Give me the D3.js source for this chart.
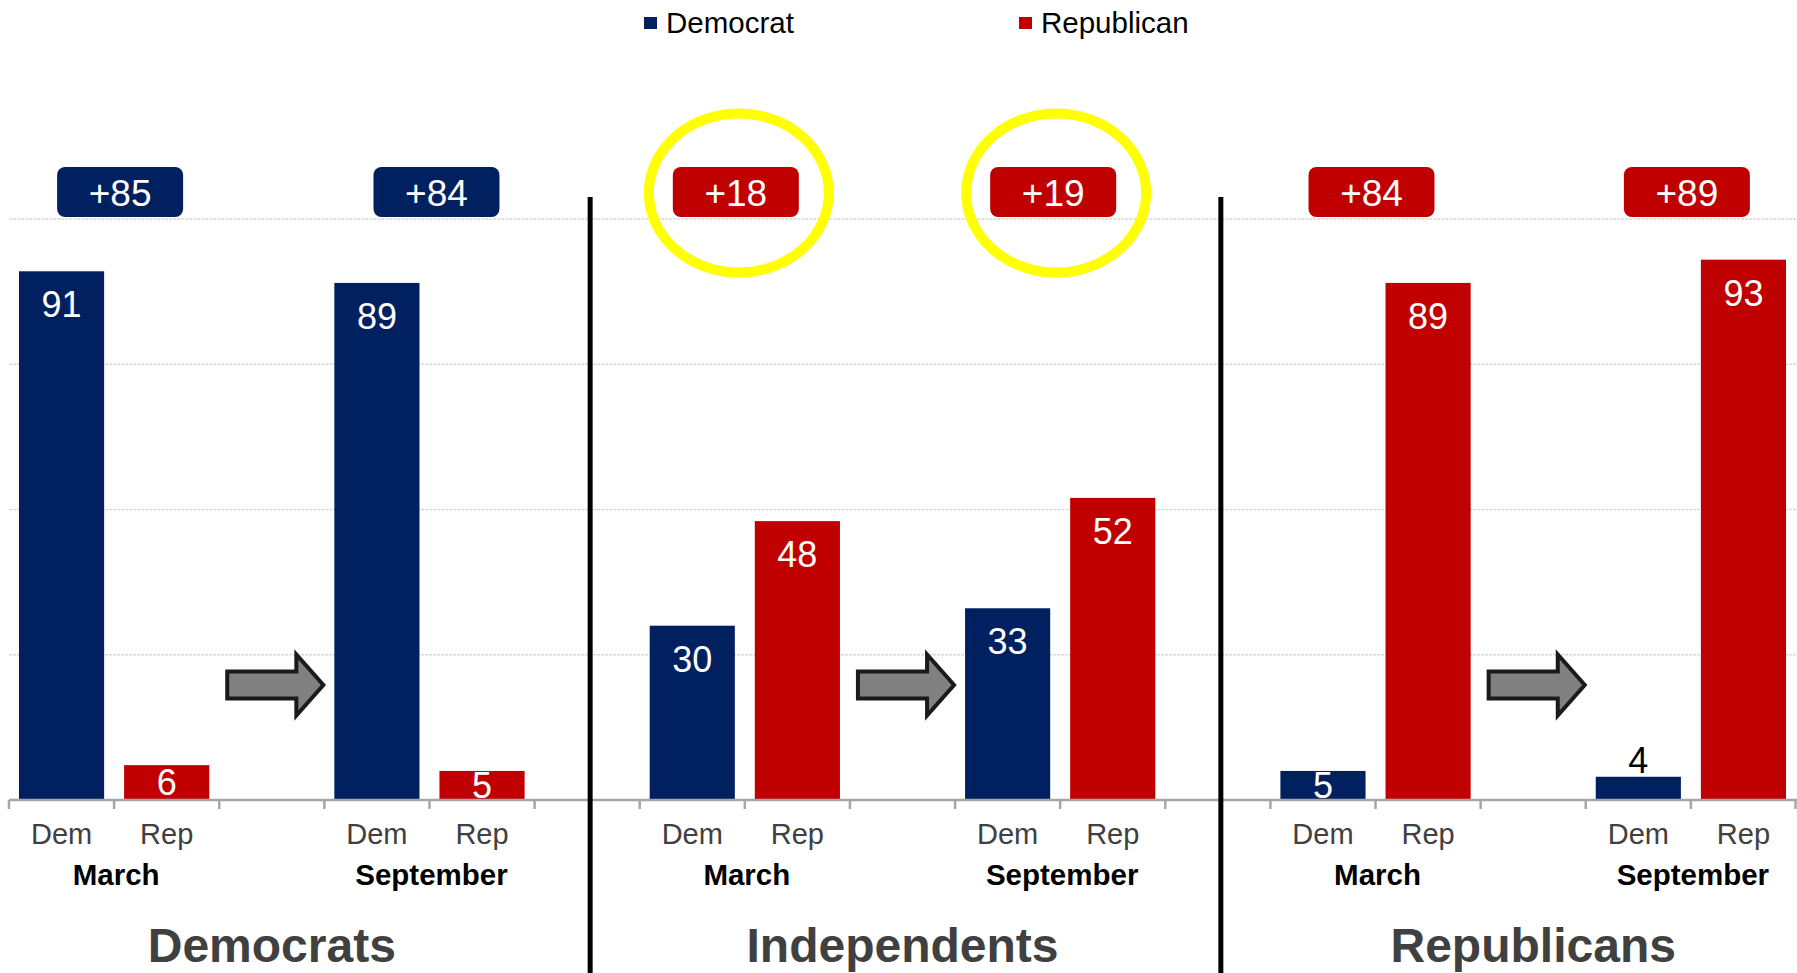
<!DOCTYPE html>
<html>
<head>
<meta charset="utf-8">
<script src="https://cdn.jsdelivr.net/npm/d3@7/dist/d3.min.js"></script>
<style>
  html, body { margin: 0; padding: 0; background: #ffffff; }
  svg { display: block; }
  text { font-family: "Liberation Sans", Arial, Helvetica, sans-serif; }
</style>
</head>
<body>
<svg id="chart" width="1797" height="973"></svg>
<script>
// ---- data ----
const groups = ["Democrats", "Independents", "Republicans"];
const waves = ["March", "September"];
const parties = ["Dem", "Rep"];
const legendLabels = ["Democrat", "Republican"];
// per group, per wave (March, September)
const demShare = [91, 89, 30, 33, 5, 4];
const repShare = [6, 5, 48, 52, 89, 93];
const leadLabels = ["+85", "+84", "+18", "+19", "+84", "+89"];
const leadParty = ["Dem", "Dem", "Rep", "Rep", "Rep", "Rep"];
const highlighted = [false, false, true, true, false, false];
const gridValues = [25, 50, 75, 100];

// ---- layout / styling ----
const W = 1797, H = 973;
const colors = { Dem: "#002060", Rep: "#C00000" };
const boxNudge = [6, 7, -9, -7, -4, -4]; // hand placement of the lead boxes
const svg = d3.select("#chart");

// slot keys: per group -> M-Dem, M-Rep, gap(arrow), S-Dem, S-Rep ; separator slot between groups
const slots = [];
groups.forEach((g, gi) => {
  waves.forEach((w, wi) => {
    parties.forEach(p => slots.push(`${g}|${w}|${p}`));
    if (wi === 0) slots.push(`${g}|arrow`);
  });
  if (gi < groups.length - 1) slots.push(`sep${gi}`);
});

const x = d3.scaleBand().domain(slots).range([9, 1796]).paddingInner(0.19).paddingOuter(0.095);
const step = x.step();
const slotStart = k => x(k) - step * 0.095;
const slotEnd = k => slotStart(k) + step;
const slotMid = k => x(k) + x.bandwidth() / 2;

const y = d3.scaleLinear().domain([0, 100]).range([800, 219]);

// gridlines
svg.append("g").selectAll("line").data(gridValues).join("line")
  .attr("x1", 9).attr("x2", W)
  .attr("y1", d => y(d)).attr("y2", d => y(d))
  .attr("stroke", "#d9d9d9").attr("stroke-width", 1.5)
  .attr("stroke-dasharray", "3,1");

// bar records
const bars = [];
groups.forEach((g, gi) => waves.forEach((w, wi) => {
  const i = gi * 2 + wi;
  bars.push({ key: `${g}|${w}|Dem`, party: "Dem", v: demShare[i] });
  bars.push({ key: `${g}|${w}|Rep`, party: "Rep", v: repShare[i] });
}));

svg.append("g").selectAll("rect").data(bars).join("rect")
  .attr("x", d => x(d.key)).attr("width", x.bandwidth())
  .attr("y", d => y(d.v)).attr("height", d => y(0) - y(d.v))
  .attr("fill", d => colors[d.party]);

// axis
const axisG = svg.append("g");
axisG.append("line").attr("x1", 9).attr("x2", W).attr("y1", y(0)).attr("y2", y(0))
  .attr("stroke", "#a6a6a6").attr("stroke-width", 2.5);
const tickXs = slots.map(slotStart).concat([slotEnd(slots[slots.length - 1])]);
axisG.selectAll("line.tick").data(tickXs).join("line").attr("class", "tick")
  .attr("x1", d => Math.min(d, W - 1.5)).attr("x2", d => Math.min(d, W - 1.5))
  .attr("y1", y(0)).attr("y2", y(0) + 9)
  .attr("stroke", "#a6a6a6").attr("stroke-width", 2.5);

// value labels
svg.append("g").selectAll("text").data(bars).join("text")
  .attr("x", d => slotMid(d.key))
  .attr("y", d => {
    const h = y(0) - y(d.v);
    if (d.v < 5) return y(d.v) - 4;
    if (h > 45) return y(d.v) + 46;
    return Math.min(y(d.v) + 30, y(0) - 2);
  })
  .attr("text-anchor", "middle")
  .attr("font-size", 36)
  .attr("fill", d => d.v < 5 ? "#000000" : "#ffffff")
  .text(d => d.v);

// party category labels
svg.append("g").selectAll("text").data(bars).join("text")
  .attr("x", d => slotMid(d.key)).attr("y", 844)
  .attr("text-anchor", "middle").attr("font-size", 29).attr("fill", "#404040")
  .text(d => d.party);

// wave labels + lead boxes
const pairs = [];
groups.forEach((g, gi) => waves.forEach((w, wi) => {
  const i = gi * 2 + wi;
  const cx = (slotStart(`${g}|${w}|Dem`) + slotEnd(`${g}|${w}|Rep`)) / 2;
  pairs.push({ g, w, cx, bx: cx + boxNudge[i], lead: leadLabels[i], party: leadParty[i], hl: highlighted[i] });
}));

svg.append("g").selectAll("text").data(pairs).join("text")
  .attr("x", d => d.cx + 2).attr("y", 885)
  .attr("text-anchor", "middle").attr("font-size", 29.5).attr("font-weight", "bold")
  .attr("fill", "#000000").text(d => d.w);

const boxW = 126, boxH = 50, boxCY = 192;
const boxG = svg.append("g");
boxG.selectAll("ellipse").data(pairs.filter(d => d.hl)).join("ellipse")
  .attr("cx", d => d.bx + 3).attr("cy", boxCY + 1)
  .attr("rx", 90).attr("ry", 79.5)
  .attr("fill", "none").attr("stroke", "#FFFF00").attr("stroke-width", 10);
boxG.selectAll("rect").data(pairs).join("rect")
  .attr("x", d => d.bx - boxW / 2).attr("y", boxCY - boxH / 2)
  .attr("width", boxW).attr("height", boxH).attr("rx", 8).attr("ry", 8)
  .attr("fill", d => colors[d.party]);
boxG.selectAll("text").data(pairs).join("text")
  .attr("x", d => d.bx).attr("y", boxCY + 14)
  .attr("text-anchor", "middle").attr("font-size", 37).attr("fill", "#ffffff")
  .text(d => d.lead);

// arrows in gap slots
const arrowC = 685;
svg.append("g").selectAll("path").data(groups).join("path")
  .attr("d", g => {
    const s = slotStart(`${g}|arrow`), e = slotEnd(`${g}|arrow`);
    const x0 = s + 8, tip = e - 1, hb = e - 28;
    return `M${x0},${arrowC - 13.5} L${hb},${arrowC - 13.5} L${hb},${arrowC - 30.5} L${tip},${arrowC} L${hb},${arrowC + 30.5} L${hb},${arrowC + 13.5} L${x0},${arrowC + 13.5} Z`;
  })
  .attr("fill", "#808080").attr("stroke", "#1a1a1a").attr("stroke-width", 4)
  .attr("stroke-linejoin", "miter");

// group titles
svg.append("g").selectAll("text").data(groups).join("text")
  .attr("x", g => (slotStart(`${g}|March|Dem`) + slotEnd(`${g}|September|Rep`)) / 2)
  .attr("y", 962)
  .attr("text-anchor", "middle").attr("font-size", 48).attr("font-weight", "bold")
  .attr("fill", "#404040").text(g => g);

// separators
svg.append("g").selectAll("line").data(slots.filter(k => k.startsWith("sep"))).join("line")
  .attr("x1", k => slotMid(k) + 3).attr("x2", k => slotMid(k) + 3)
  .attr("y1", 197).attr("y2", H)
  .attr("stroke", "#000000").attr("stroke-width", 5);

// legend
const legendX = [644, 1019];
const lg = svg.append("g").selectAll("g").data(legendLabels).join("g")
  .attr("transform", (d, i) => `translate(${legendX[i]},0)`);
lg.append("rect").attr("x", 0).attr("y", 17).attr("width", 13).attr("height", 12)
  .attr("fill", (d, i) => colors[parties[i]]);
lg.append("text").attr("x", 22).attr("y", 33).attr("font-size", 29.5).attr("fill", "#000000")
  .text(d => d);
</script>
</body>
</html>
